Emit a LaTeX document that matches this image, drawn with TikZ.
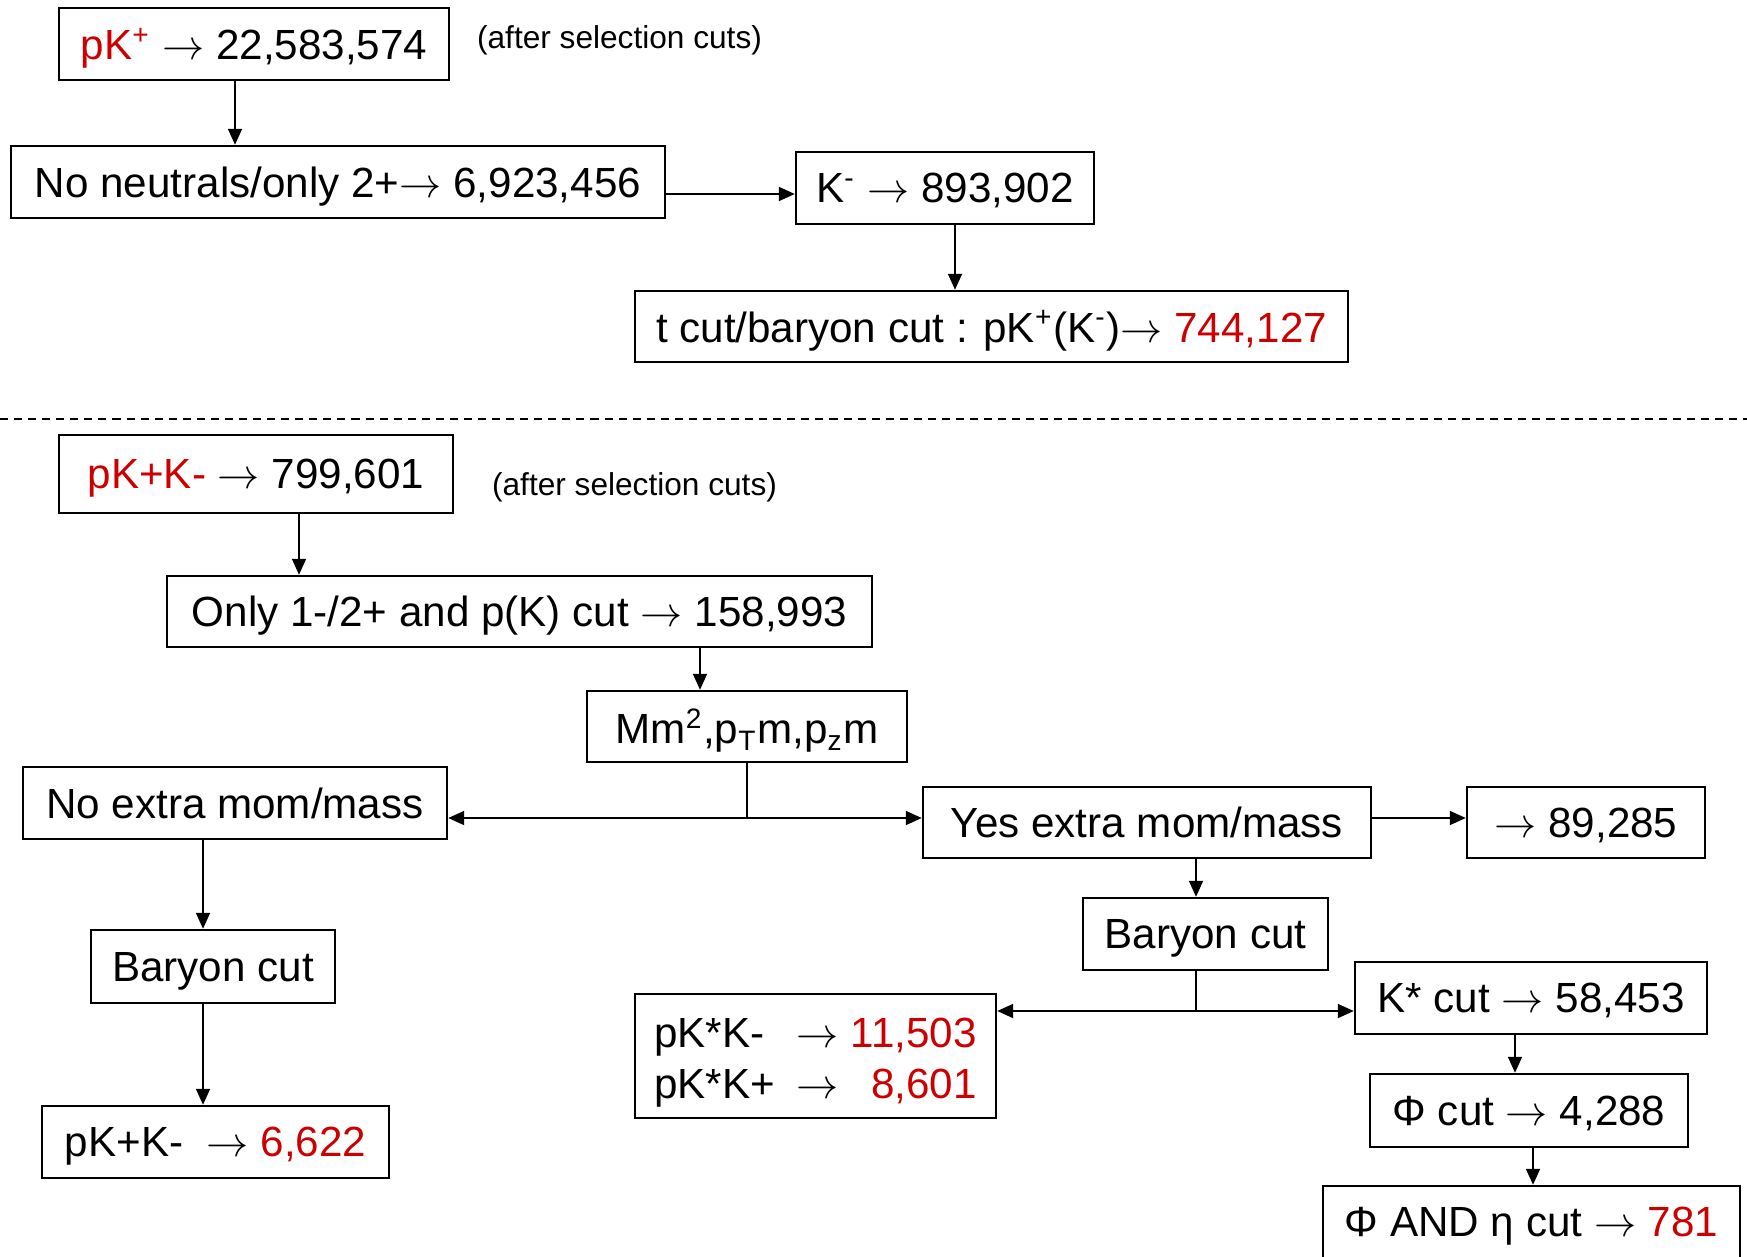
\documentclass[tikz,border=0pt]{standalone}
\usepackage{fontspec}
\setmainfont{Liberation Sans}
\usetikzlibrary{arrows.meta}
\definecolor{cutred}{RGB}{204,0,0}
\newcommand{\cnt}[1]{\textcolor{cutred}{#1}}
\tikzset{
  cutbox/.style 2 args={draw,line width=0.7pt,inner sep=0pt,text depth=0pt,minimum width=#1cm,minimum height=#2cm,font=\fontsize{12}{14.4}\selectfont},
  note/.style={font=\fontsize{9}{11}\selectfont},
  flow/.style={-{Triangle[length=1.6mm,width=1.4mm]},line width=0.5pt},
}
\begin{document}
\begin{tikzpicture}
		  \useasboundingbox (0,0) rectangle (17.47,-12.56);
		  % pK+ sample
		  \node[cutbox={3.90}{0.72}] (pk) at (2.54,-0.44) {\cnt{pK\textsuperscript{+}} $\rightarrow$ 22,583,574};
		  \node[note] (sel1) at (6.195,-0.40) {(after selection cuts)};
		  \node[cutbox={6.54}{0.72}] (neut) at (3.38,-1.82) {No neutrals/only 2+$\rightarrow$ 6,923,456};
		  \node[cutbox={2.98}{0.72}] (km) at (9.45,-1.88) {K\textsuperscript{-} $\rightarrow$ 893,902};
		  \node[cutbox={7.13}{0.71}] (tcut) at (9.915,-3.265) {t cut/baryon cut : pK\textsuperscript{+}(K\textsuperscript{-})$\rightarrow$ \cnt{744,127}};
		  \draw[flow] ([xshift=-1.9mm]pk.south) -- ([xshift=-10.3mm]neut.north);
		  \draw[flow] ([yshift=-1.2mm]neut.east) -- ([yshift=-0.6mm]km.west);
		  \draw[flow] ([xshift=1mm]km.south) -- ([xshift=-3.65mm]tcut.north);
		  % separator
		  \draw[line width=0.6pt,dash pattern=on 2.3pt off 1.7pt] (0,-4.19) -- (17.47,-4.19);
		  % pK+K- sample
		  \node[cutbox={3.94}{0.78}] (pkk) at (2.56,-4.74) {\cnt{pK+K-} $\rightarrow$ 799,601};
		  \node[note] (sel2) at (6.345,-4.87) {(after selection cuts)};
		  \node[cutbox={7.05}{0.71}] (only) at (5.195,-6.115) {Only 1-/2+ and p(K) cut $\rightarrow$ 158,993};
		  \node[cutbox={3.20}{0.71}] (mm) at (7.47,-7.265) {Mm\textsuperscript{2},p\textsubscript{T}m,p\textsubscript{z}m};
		  \node[cutbox={4.24}{0.72}] (noex) at (2.35,-8.03) {No extra mom/mass};
		  \node[cutbox={4.48}{0.71}] (yesex) at (11.47,-8.225) {Yes extra mom/mass};
		  \node[cutbox={2.38}{0.71}] (res) at (15.86,-8.225) {$\rightarrow$ 89,285};
		  \node[cutbox={2.44}{0.73}] (bary1) at (2.13,-9.665) {Baryon cut};
		  \node[cutbox={3.47}{0.72}] (final) at (2.155,-11.42) {pK+K-\ \ $\rightarrow$ \cnt{6,622}};
		  \node[cutbox={2.45}{0.72}] (bary2) at (12.055,-9.34) {Baryon cut};
		  \node[cutbox={3.61}{1.24},text depth=7.6pt] (kstk) at (8.155,-10.56) {\begin{tabular}{@{}l@{\hspace{0.5em}}l@{\hspace{0.3em}}r@{}}
		    pK*K- & $\rightarrow$ & \cnt{11,503}\\
		    pK*K+ & $\rightarrow$ & \cnt{8,601}
		  \end{tabular}};
		  \node[cutbox={3.52}{0.72}] (kst) at (15.31,-9.98) {K* cut $\rightarrow$ 58,453};
		  \node[cutbox={3.18}{0.73}] (phi) at (15.29,-11.105) {Φ cut $\rightarrow$ 4,288};
		  \node[cutbox={4.17}{0.72}] (phieta) at (15.315,-12.22) {Φ AND η cut $\rightarrow$ \cnt{781}};
		  \coordinate (split1) at (7.47,-8.18);
		  \coordinate (split2) at (11.96,-10.11);
		  \draw[flow] ([xshift=4.3mm]pkk.south) -- ([xshift=-22.05mm]only.north);
		  \draw[flow] ([xshift=18.05mm]only.south) -- ([xshift=-4.7mm]mm.north);
		  \draw[line width=0.5pt] (mm.south) -- (split1);
		  \draw[flow] (split1) -- (split1 -| noex.east);
		  \draw[flow] (split1) -- (split1 -| yesex.west);
		  \draw[flow] (split1 -| yesex.east) -- (split1 -| res.west);
		  \draw[flow] ([xshift=-3.2mm]noex.south) -- ([xshift=-1mm]bary1.north);
		  \draw[flow] ([xshift=-1mm]bary1.south) -- ([xshift=-1.25mm]final.north);
		  \draw[flow] ([xshift=4.9mm]yesex.south) -- ([xshift=-0.95mm]bary2.north);
		  \draw[line width=0.5pt] ([xshift=-0.95mm]bary2.south) -- (split2);
		  \draw[flow] (split2) -- (split2 -| kstk.east);
		  \draw[flow] (split2) -- (split2 -| kst.west);
		  \draw[flow] ([xshift=-1.6mm]kst.south) -- ([xshift=-1.4mm]phi.north);
		  \draw[flow] ([xshift=0.4mm]phi.south) -- ([xshift=0.15mm]phieta.north);
		\end{tikzpicture}
\end{document}
